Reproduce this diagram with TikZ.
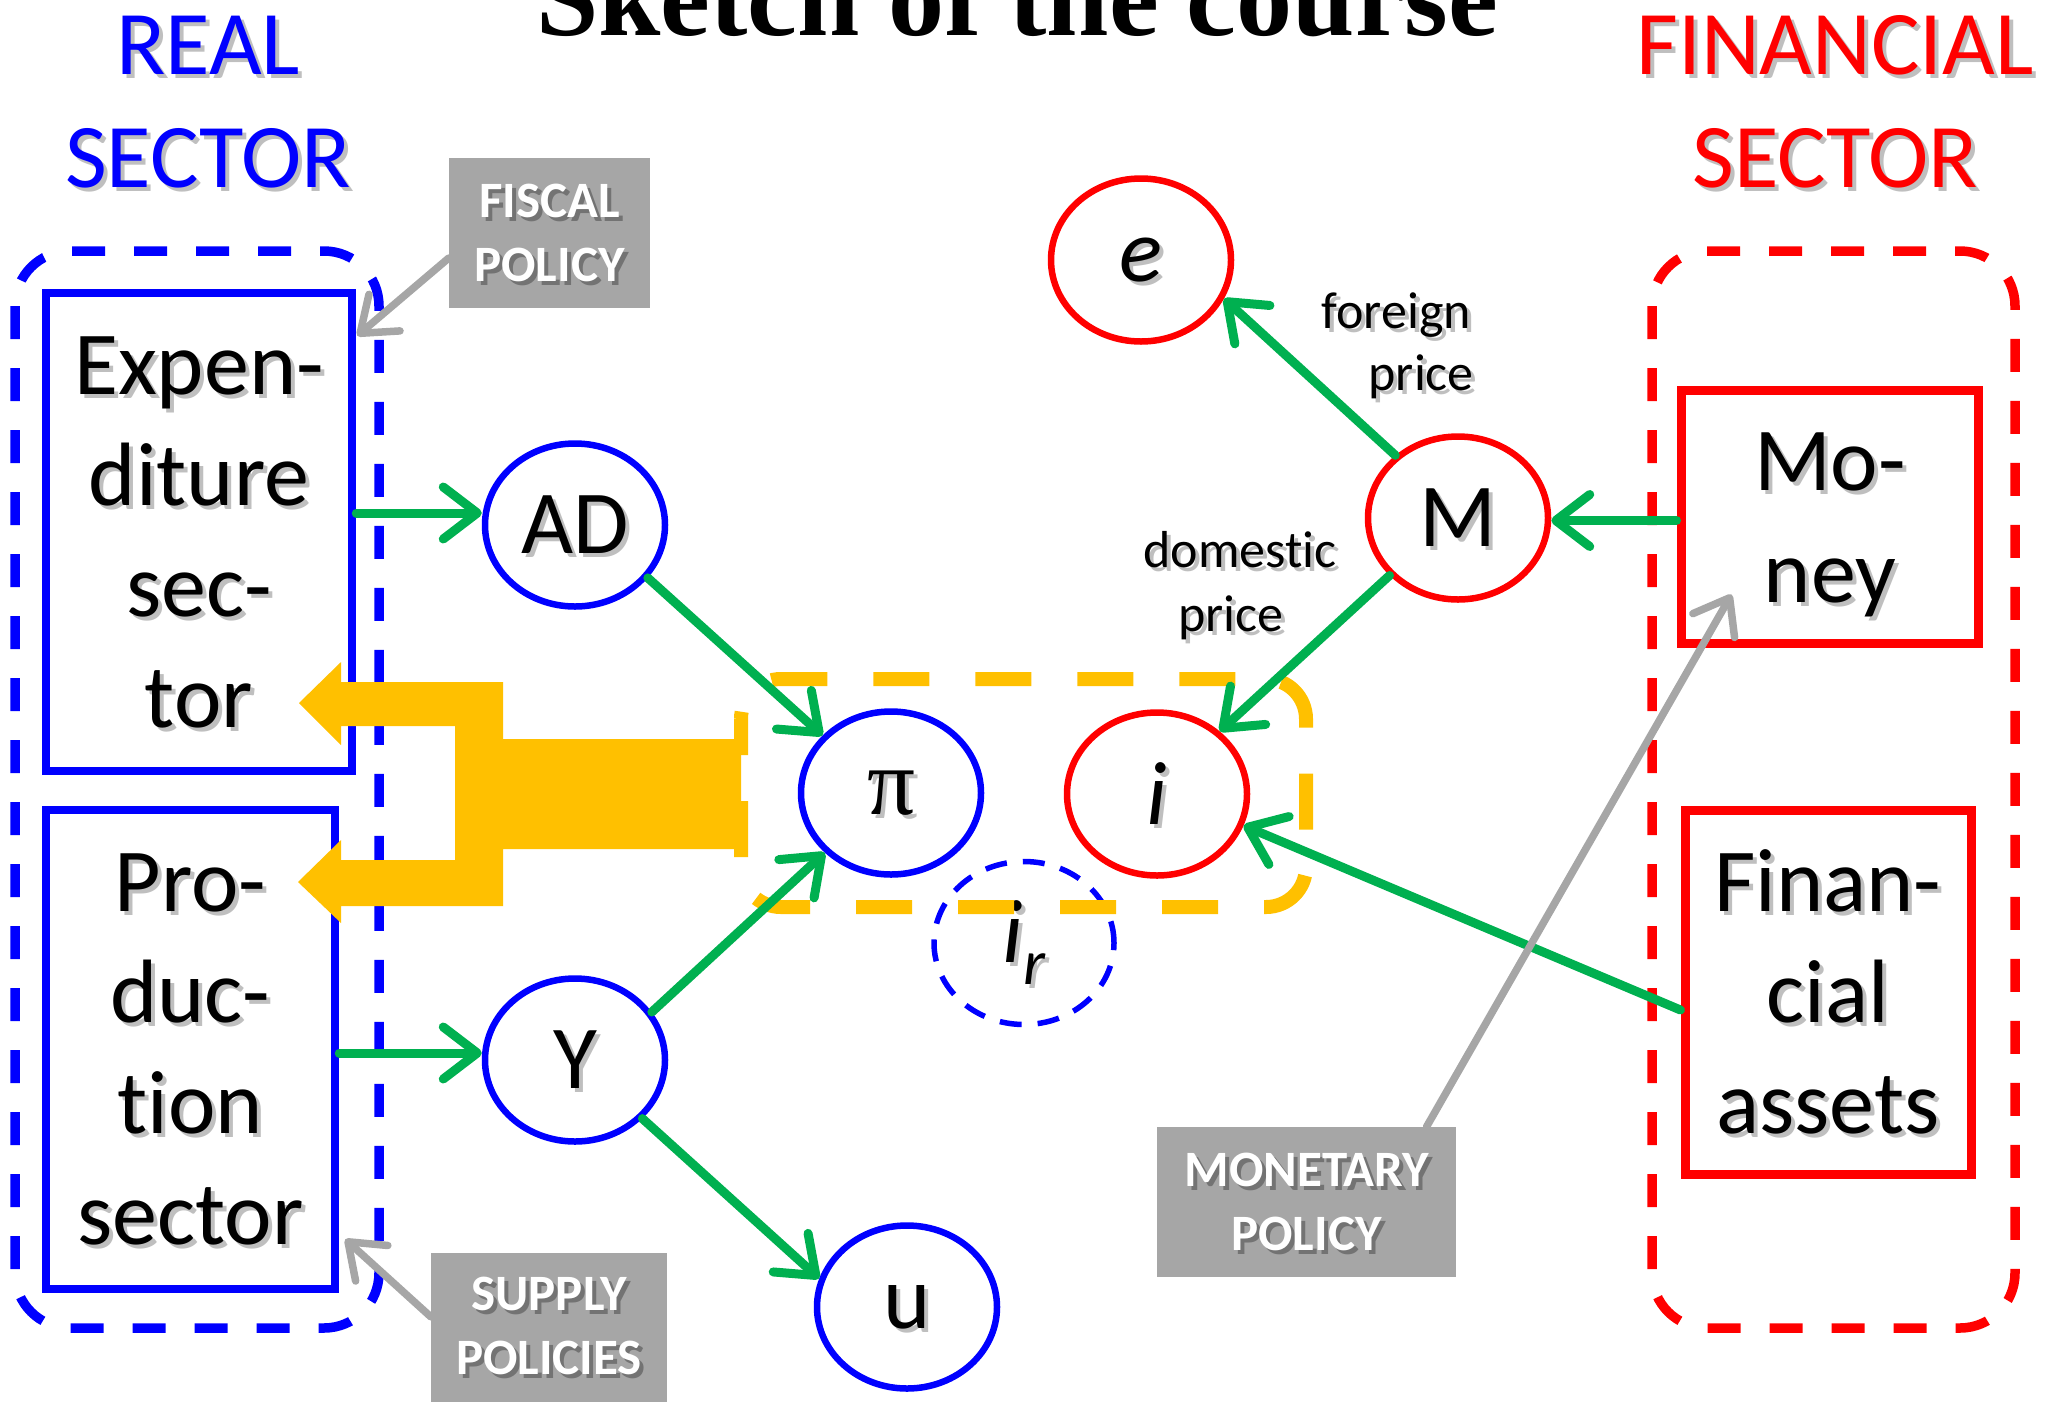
\documentclass[tikz,border=0pt]{standalone}
\usepackage{fontspec}
\setmainfont{Carlito}[Ligatures=NoCommon]
\newfontfamily\titlefont{Liberation Serif}
\newfontfamily\grkfont{Liberation Serif}
\usetikzlibrary{arrows.meta,shapes.geometric}
\definecolor{cblue}{RGB}{0,0,255}
\definecolor{cred}{RGB}{255,0,0}
\definecolor{cgreen}{RGB}{0,176,80}
\definecolor{cyellow}{RGB}{255,192,0}
\definecolor{cgray}{RGB}{166,166,166}
\newcommand\Sh[2][black!25]{\leavevmode\rlap{\kern4pt\smash{\raisebox{-4pt}{\textcolor{#1}{#2}}}}#2}
\begin{document}
\begin{tikzpicture}[x=1pt,y=-1pt,
  rbox/.style={rectangle, line width=8.5pt, fill=white, inner sep=0pt, align=center, font=\fontsize{90}{111}\selectfont},
  boxtxt/.style={align=center, inner sep=0pt, font=\fontsize{90}{112}\selectfont},
  ell/.style={ellipse, line width=6.5pt, minimum width=180pt, minimum height=163pt, inner sep=0pt, font=\fontsize{90}{90}\selectfont},
  gbox/.style={rectangle, fill=cgray, inner sep=0pt, text=white, align=center, font=\bfseries\fontsize{51}{64}\selectfont},
  gtxt/.style={inner sep=0pt, text=white, align=center, font=\bfseries\fontsize{51}{64}\selectfont},
  sect/.style={align=center, inner sep=0pt, font=\fontsize{91}{113}\selectfont},
  lbl/.style={inner sep=0pt, font=\fontsize{52}{64}\selectfont},
  outerdash/.style={line width=9.5pt, dash pattern=on 33pt off 29pt, rounded corners=55pt},
  garrow/.style={draw=cgreen, line width=9pt, line cap=round, -{Straight Barb[round,length=34pt,width=52pt]}},
  grarrow/.style={draw=cgray, line width=7.5pt, line cap=round, -{Straight Barb[round,length=32pt,width=48pt]}},
]
\useasboundingbox (0,0) rectangle (2047,1401);
\clip (0,0) rectangle (2047,1401);

% title (cut by the top edge)
\node[anchor=base west, inner sep=0pt] (title) at (536,35)
  {\resizebox{962pt}{!}{\titlefont\bfseries\fontsize{100}{100}\selectfont Sketch of the course}};

% sector headings
\node[sect, text=cblue] (real) at (208,102) {\Sh{REAL}\\\Sh{SECTOR}};
\node[sect, text=cred] (fina) at (1835,102) {\Sh{FINANCIAL}\\\Sh{SECTOR}};

% outer dashed frames
\draw[outerdash, draw=cblue] (15,251) rectangle (379,1328);
\draw[outerdash, draw=cred] (1652,251) rectangle (2015,1328);

% sector boxes
\node[rbox, draw=cblue, minimum width=306pt, minimum height=478pt] (exp) at (199,532)
  {\Sh{Expen-}\\\Sh{diture}\\\Sh{sec-}\\\Sh{tor}};
\node[rbox, draw=cblue, minimum width=289pt, minimum height=479pt] (prod) at (190.5,1049.5)
  {\Sh{Pro-}\\\Sh{duc-}\\\Sh{tion}\\\Sh{sector}};
\node[rbox, draw=cred, line width=9pt, minimum width=297pt, minimum height=253pt] (money) at (1829.5,516.5) {};
\node[boxtxt] (moneyT) at (1830,525) {\Sh{Mo-}\\\Sh{ney}};
\node[rbox, draw=cred, line width=9pt, minimum width=286pt, minimum height=364pt] (fin) at (1828,992)
  {\Sh{Finan-}\\\Sh{cial}\\\Sh{assets}};

% variables
\node[ell, draw=cblue] (ad) at (575,525) {\Sh{AD}};
\node[ell, draw=cblue] (y) at (575,1060) {\Sh{Y}};
\node[ell, draw=cblue, font=\grkfont\fontsize{95}{95}\selectfont] (pi) at (891,793) {\Sh{π}};
\node[ell, draw=cred] (i) at (1157,794) {\itshape\Sh{i}};
\node[ell, draw=cblue, line width=5.5pt, dash pattern=on 22pt off 16pt] (ir) at (1024,943)
  {\itshape\Sh{i}\raisebox{-22pt}{\fontsize{64}{64}\selectfont\Sh{r}}};
\node[ell, draw=cblue] (u) at (907,1307) {\Sh{u}};
\node[ell, draw=cred] (e) at (1141,260) {\itshape\Sh{e}};
\node[ell, draw=cred] (m) at (1458,518) {\Sh{M}};

% labels
\node[lbl, anchor=base east] (lf1) at (1471,328) {\Sh{foreign}};
\node[lbl, anchor=base east] (lf2) at (1474,390) {\Sh{price}};
\node[lbl, anchor=base] (ld1) at (1240,567) {\Sh{domestic}};
\node[lbl, anchor=base] (ld2) at (1231,631) {\Sh{price}};

% yellow dashed frame round pi and i
\draw[cyellow, line width=14pt, dash pattern=on 56pt off 46pt, dash phase=20pt, rounded corners=40pt]
  (741,679) rectangle (1306,907);

% yellow forked arrow
\fill[cyellow] (299,703) -- (341,662) -- (341,682) -- (503,682) -- (503,739) -- (741,739)
  -- (741,849) -- (503,849) -- (503,906) -- (341,906) -- (341,923) -- (298,882)
  -- (341,840) -- (341,860) -- (455,860) -- (455,726) -- (341,726) -- (341,745) -- cycle;

% green connectors
\draw[garrow] ([yshift=19pt]exp.east) -- ([yshift=19pt]exp.east -| ad.west);
\draw[garrow] ([yshift=-3.5pt]prod.east) -- ([yshift=-3.5pt]prod.east -| y.west);
\draw[garrow] (ad.324) -- (pi.140);
\draw[garrow] (y.32) -- (pi.222);
\draw[garrow] (y.319) -- (u.162);
\draw[garrow] (m.135) -- (e.335);
\draw[garrow] (m.220) -- (i.45);
\draw[garrow] ([yshift=-4pt]money.west) -- ([yshift=-4pt]money.west -| m.east);
\draw[garrow] ([yshift=-18pt]fin.west) -- (i.340);

% policy boxes
\node[gbox, minimum width=201pt, minimum height=150pt] (fiscal) at (549.5,233)
  {\Sh[black!55]{FISCAL}\\\Sh[black!55]{POLICY}};
\node[gbox, minimum width=299pt, minimum height=150pt] (monet) at (1306.5,1202)
  {\Sh[black!55]{MONETARY}\\\Sh[black!55]{POLICY}};
\node[gbox, minimum width=236pt, minimum height=200pt] (supply) at (549,1353) {};
\node[gtxt] (supplyT) at (549,1326) {\Sh[black!55]{SUPPLY}\\\Sh[black!55]{POLICIES}};

% gray policy arrows
\draw[grarrow] ([yshift=-25pt]fiscal.west) -- ([xshift=1pt,yshift=-47pt]exp.north east);
\draw[grarrow] ([yshift=-64pt]supply.north west) -- ([xshift=6pt,yshift=54pt]prod.south east);
\draw[grarrow] ([xshift=120pt]monet.north) -- ([xshift=55pt,yshift=53pt]money.south west);
\end{tikzpicture}
\end{document}
